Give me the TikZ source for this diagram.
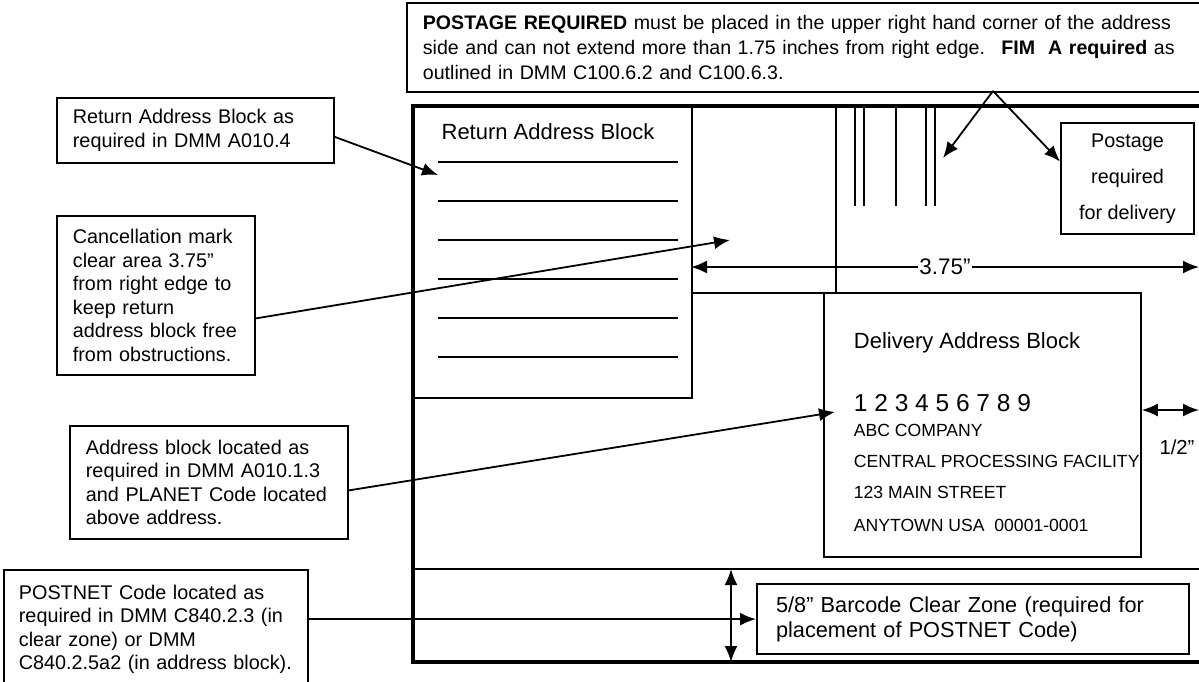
\documentclass[tikz,border=0pt]{standalone}
\usepackage{fontspec}
\setmainfont{Liberation Sans}
\usetikzlibrary{arrows.meta}
\newcommand{\notefont}{\fontsize{19.8}{23.6}\selectfont}
\newcommand{\titlefont}{\fontsize{22}{26}\selectfont}
\newcommand{\addrfont}{\fontsize{17.6}{20}\selectfont}

\begin{document}
\begin{tikzpicture}[x=1pt,y=-1pt,>={Latex[length=16pt,width=13pt]},line width=1.8pt,
  note/.style={draw,anchor=north west,align=left,inner xsep=16pt,inner ysep=0pt,font=\notefont},
  blockbox/.style={draw,anchor=north west,inner sep=0pt},
  addrline/.style={anchor=base west,inner sep=0pt}]
\path[use as bounding box,fill=white] (0,0) rectangle (1199,681);
\clip (0,0) rectangle (1199,681);

% envelope
\draw[line width=3.2pt] (1215,106) -- (413,106) -- (413,662) -- (1215,662);
\draw[line width=2pt] (413,569) -- (1215,569);

% blocks on the envelope
\node[blockbox,minimum width=278pt,minimum height=291pt] (retblock) at (413,106) {};
\node[blockbox,minimum width=144pt,minimum height=186pt] (cancrect) at (691,106) {};
\node[blockbox,minimum width=317pt,minimum height=264pt] (delblock) at (823,292) {};
\node[blockbox,line width=2pt,minimum width=133pt,minimum height=111pt,align=center,
  font=\fontsize{19.8}{36}\selectfont] (postbox) at (1060,122) {Postage\\required\\for delivery};
\node[note,line width=2.2pt,inner xsep=19pt,text width=394pt,minimum height=70pt,
  font=\fontsize{21.7}{25}\selectfont] (zonebox) at (756,583)
  {5/8” Barcode Clear Zone (required for\\placement of POSTNET Code)};

\node[font=\titlefont] (rettitle) at (548,132) {Return Address Block};
\foreach \y in {162,201,240,279,318,357}
  \draw (438,\y) -- (678,\y);
\foreach \x in {855,864,896,926,935}
  \draw[line width=2.4pt] (\x,106) -- (\x,206);

\node[addrline,font=\titlefont] (deltitle) at (853,348) {Delivery Address Block};
\node[addrline,font=\fontsize{24.5}{28}\selectfont] (zipline) at (853,411) {1 2 3 4 5 6 7 8 9};
\node[addrline,font=\addrfont] (addrA) at (853,436) {ABC COMPANY};
\node[addrline,font=\addrfont] (addrB) at (853,467) {CENTRAL PROCESSING FACILITY};
\node[addrline,font=\addrfont] (addrC) at (853,498) {123 MAIN STREET};
\node[addrline,font=\addrfont] (addrD) at (853,531) {ANYTOWN USA~ 00001-0001};

% notes
\node[note,text width=771pt,minimum height=89pt,font=\fontsize{19.6}{25}\selectfont] (postnote) at (406,2)
  {\textbf{POSTAGE REQUIRED} must be placed in the upper right hand corner of the address\\
   side and can not extend more than 1.75 inches from right edge.~ \textbf{FIM~ A required} as\\
   outlined in DMM C100.6.2 and C100.6.3.};
\node[note,text width=245pt,minimum height=65pt] (retnote) at (56,97)
  {Return Address Block as\\required in DMM A010.4};
\node[note,text width=166pt,minimum height=159pt] (cancnote) at (56,215)
  {Cancellation mark\\clear area 3.75”\\from right edge to\\keep return\\address block free\\from obstructions.};
\node[note,text width=246pt,minimum height=113pt] (addrnote) at (69,425)
  {Address block located as\\required in DMM A010.1.3\\and PLANET Code located\\above address.};
\node[note,inner xsep=15pt,text width=274pt,minimum height=119pt] (postnetnote) at (3,569)
  {POSTNET Code located as\\required in DMM C840.2.3 (in\\clear zone) or DMM\\C840.2.5a2 (in address block).};

% measures
\coordinate (clearR) at (1199,267);
\coordinate (halfR) at (1199,410);
\coordinate (zonetop) at (731,569);
\coordinate (zonebot) at (731,662);
\draw[<->] (cancrect.west |- clearR) -- node[fill=white,inner sep=1pt,font=\fontsize{22.5}{26}\selectfont] (clearlabel) {3.75”} (clearR);
\draw[<->] (delblock.east |- halfR) -- (halfR);
\node[font=\fontsize{20.3}{24}\selectfont] (halflabel) at (1177,447) {1/2”};
\draw[<->] (zonetop) -- (zonebot);

% pointers
\coordinate (fimapex) at (993,91);
\coordinate (fimaim) at (943,158);
\coordinate (retaim) at (438,175);
\coordinate (cancaim) at (730,240);
\coordinate (addraim) at (835,412);
\draw[->] (fimapex) -- (fimaim);
\draw[->] (fimapex) -- ([yshift=17pt]postbox.west);
\draw[->] ([yshift=-6.5pt]retnote.east) -- (retaim);
\draw[->] ([yshift=-23pt]cancnote.east) -- (cancaim);
\draw[->] ([yshift=-8pt]addrnote.east) -- (addraim);
\draw[->] (postnetnote.east |- zonebox.west) -- (zonebox.west);
\end{tikzpicture}
\end{document}
